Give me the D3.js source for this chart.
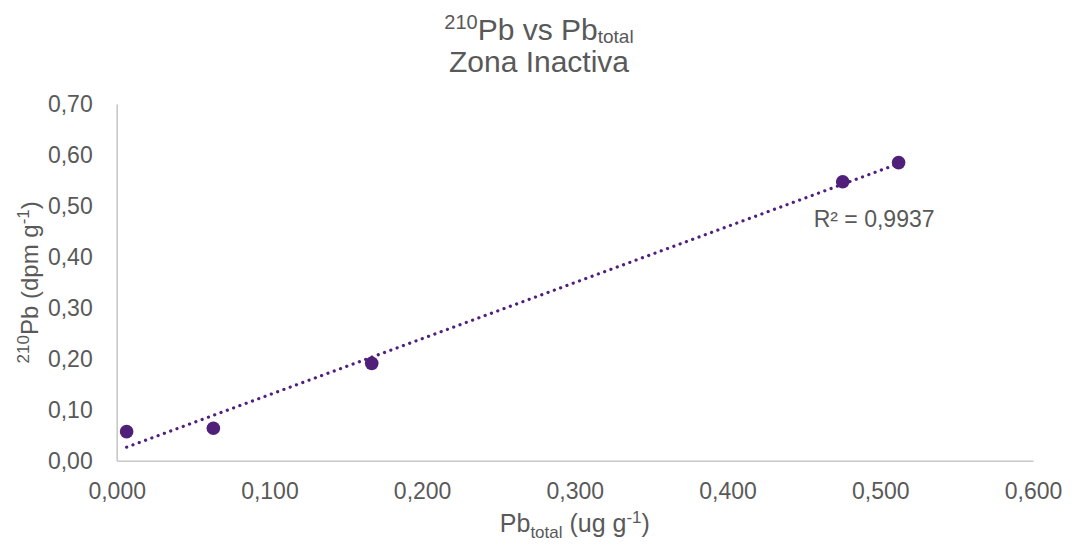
<!DOCTYPE html>
<html>
	<head>
		<meta charset="UTF-8">
		<title>210Pb vs Pbtotal</title>
		<style>
			body{margin:0;background:#fff;}
			text{font-family:"Liberation Sans",Arial,sans-serif;fill:#595959;}
		</style>
	</head>
	<body>
		<script src="https://cdn.jsdelivr.net/npm/d3@7/dist/d3.min.js"></script>
		<script>
			// data
			var pbTotal = [0.0065, 0.0633, 0.167, 0.4754, 0.512];
			var pb210 = [0.057, 0.0636, 0.191, 0.5475, 0.585];
			var xTicks = [0, 0.1, 0.2, 0.3, 0.4, 0.5, 0.6];
			var yTicks = [0, 0.1, 0.2, 0.3, 0.4, 0.5, 0.6, 0.7];

			var width = 1078,
				height = 546;
			var m = {left:116.7, right:45, top:104, bottom:85.3};

			var svg = d3.select("body").append("svg")
						.attr("width",width)
						.attr("height",height);

			var x = d3.scaleLinear().domain([0,0.6]).range([m.left,width-m.right]);
			var y = d3.scaleLinear().domain([0,0.7]).range([height-m.bottom,m.top]);

			var comma = function(n,dec){ return n.toFixed(dec).replace(".",","); };

			//axes
			var xAxis = svg.append("g")
						.attr("transform","translate(0,"+y(0)+")")
						.call(d3.axisBottom(x).tickValues(xTicks).tickSize(0).tickPadding(22)
							.tickFormat(function(d){return comma(d,3);}));
			var yAxis = svg.append("g")
						.attr("transform","translate("+x(0)+",0)")
						.call(d3.axisLeft(y).tickValues(yTicks).tickSize(0).tickPadding(24)
							.tickFormat(function(d){return comma(d,2);}));
			[xAxis,yAxis].forEach(function(a){
				a.select(".domain").attr("stroke","#c8c8c8").attr("stroke-width",1.6);
				a.selectAll("text").style("font-size","23px").attr("fill","#595959")
					.style("font-family","'Liberation Sans',Arial,sans-serif");
			});

			//linear trendline (least squares)
			var n = pbTotal.length;
			var mx = d3.mean(pbTotal), my = d3.mean(pb210);
			var sxy = 0, sxx = 0;
			for(var i=0;i<n;i++){
				sxy += (pbTotal[i]-mx)*(pb210[i]-my);
				sxx += (pbTotal[i]-mx)*(pbTotal[i]-mx);
			}
			var slope = sxy/sxx, icpt = my - slope*mx;
			var xs = d3.extent(pbTotal);
			svg.append("line")
				.attr("x1",x(xs[0])).attr("y1",y(icpt+slope*xs[0]))
				.attr("x2",x(xs[1])).attr("y2",y(icpt+slope*xs[1]))
				.attr("stroke","#50207c")
				.attr("stroke-width",3.2)
				.attr("stroke-linecap","round")
				.attr("stroke-dasharray","0.1,6.6");

			//points
			svg.selectAll("circle.pt")
				.data(pbTotal)
				.enter()
				.append("circle")
				.attr("class","pt")
				.attr("cx",function(d){return x(d);})
				.attr("cy",function(d,i){return y(pb210[i]);})
				.attr("r",6.8)
				.attr("fill","#4f1f7a");

			//R² label
			svg.append("text")
				.attr("x",x(0.4754)-29)
				.attr("y",y(0.5475)+45)
				.style("font-size","23px")
				.text("R² = 0,9937");

			//title
			var t1 = svg.append("text")
				.attr("x",width/2).attr("y",40)
				.attr("text-anchor","middle")
				.style("font-size","30px");
			t1.append("tspan").attr("dy","-11").style("font-size","20px").text("210");
			t1.append("tspan").attr("dy","11").text("Pb vs Pb");
			t1.append("tspan").attr("dy","3").style("font-size","19px").text("total");
			svg.append("text")
				.attr("x",width/2).attr("y",72)
				.attr("text-anchor","middle")
				.style("font-size","30px")
				.text("Zona Inactiva");

			//x axis title
			var xt = svg.append("text")
				.attr("x",(x(0)+x(0.6))/2).attr("y",532)
				.attr("text-anchor","middle")
				.style("font-size","25px");
			xt.append("tspan").text("Pb");
			xt.append("tspan").attr("dy","6").style("font-size","17px").text("total");
			xt.append("tspan").attr("dy","-6").text(" (ug g");
			xt.append("tspan").attr("dy","-9").style("font-size","17px").text("-1");
			xt.append("tspan").attr("dy","9").text(")");

			//y axis title
			var yt = svg.append("text")
				.attr("transform","translate(38,"+((y(0)+y(0.7))/2)+") rotate(-90)")
				.attr("text-anchor","middle")
				.style("font-size","24px");
			yt.append("tspan").attr("dy","-9").style("font-size","17px").text("210");
			yt.append("tspan").attr("dy","9").text("Pb (dpm g");
			yt.append("tspan").attr("dy","-9").style("font-size","17px").text("-1");
			yt.append("tspan").attr("dy","9").text(")");
		</script>
	</body>
</html>
